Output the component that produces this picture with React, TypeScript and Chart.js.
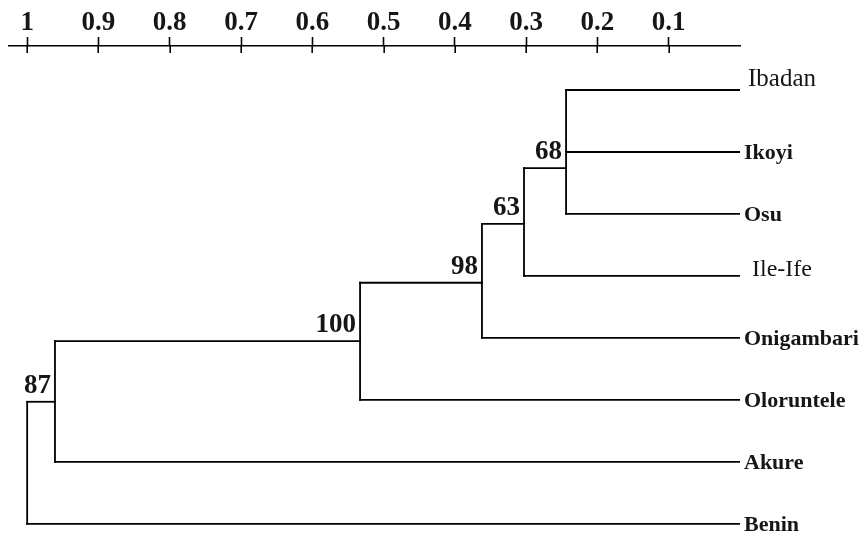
import React, { useEffect, useRef } from 'react';
import { Chart, registerables } from 'chart.js';

Chart.register(...registerables);

// ---- data ----
const leafNames = ['Ibadan', 'Ikoyi', 'Osu', 'Ile-Ife', 'Onigambari', 'Oloruntele', 'Akure', 'Benin'];
// internal nodes: children given as "L<i>" (leaf index) or "N<i>" (node index)
const nodeChildren = [
  ['L0', 'L1', 'L2'],
  ['N0', 'L3'],
  ['N1', 'L4'],
  ['N2', 'L5'],
  ['N3', 'L6'],
  ['N4', 'L7'],
];
const nodeHeights = [0.244, 0.303, 0.362, 0.533, 0.961, 1.0];
const nodeRows = [1.26, 2.16, 3.11, 4.05, 5.03, 6.0];
const bootstrap = [68, 63, 98, 100, 87, null];
const tickValues = [1, 0.9, 0.8, 0.7, 0.6, 0.5, 0.4, 0.3, 0.2, 0.1];
const tickLabels = ['1', '0.9', '0.8', '0.7', '0.6', '0.5', '0.4', '0.3', '0.2', '0.1'];

// ---- styling ----
const FONT = "'Liberation Serif', 'Times New Roman', serif";
const TEXT = '#161616';
const leafStyle: Record<string, { bold: boolean; size: number; dx: number; dy: number }> = {
  Ibadan: { bold: false, size: 25, dx: 8, dy: -11 },
  Ikoyi: { bold: true, size: 22, dx: 4, dy: 1 },
  Osu: { bold: true, size: 22, dx: 4, dy: 1 },
  'Ile-Ife': { bold: false, size: 24, dx: 12, dy: -6 },
  Onigambari: { bold: true, size: 22, dx: 4, dy: 1 },
  Oloruntele: { bold: true, size: 22, dx: 4, dy: 1 },
  Akure: { bold: true, size: 22, dx: 4, dy: 1 },
  Benin: { bold: true, size: 22, dx: 4, dy: 1 },
};

function ref(id: string) {
  const idx = parseInt(id.slice(1), 10);
  if (id[0] === 'L') return { h: 0, row: idx };
  return { h: nodeHeights[idx], row: nodeRows[idx] };
}

function buildSegments() {
  const segs: { x: number; y: number }[][] = [];
  nodeChildren.forEach((children, i) => {
    const h = nodeHeights[i];
    const rows = children.map((c) => ref(c).row);
    segs.push([
      { x: h, y: Math.min(...rows) },
      { x: h, y: Math.max(...rows) },
    ]);
    children.forEach((c) => {
      const r = ref(c);
      segs.push([
        { x: r.h, y: r.row },
        { x: h, y: r.row },
      ]);
    });
  });
  return segs;
}

const textPlugin = {
  id: 'dendroText',
  afterDraw(chart: any) {
    const { ctx, chartArea } = chart;
    const xs = chart.scales.x;
    const ys = chart.scales.y;
    ctx.save();
    // lower half of the axis tick marks
    ctx.strokeStyle = '#000';
    ctx.lineWidth = 1.6;
    tickValues.forEach((v) => {
      const px = Math.round(xs.getPixelForValue(v)) + 0.2;
      ctx.beginPath();
      ctx.moveTo(px, chartArea.top);
      ctx.lineTo(px, chartArea.top + 7);
      ctx.stroke();
    });
    // leaf names
    ctx.fillStyle = TEXT;
    ctx.textAlign = 'left';
    ctx.textBaseline = 'middle';
    leafNames.forEach((name, i) => {
      const s = leafStyle[name];
      ctx.font = `${s.bold ? 'bold ' : ''}${s.size}px ${FONT}`;
      ctx.fillText(name, xs.getPixelForValue(0) + s.dx, ys.getPixelForValue(i) + s.dy);
    });
    // bootstrap values
    ctx.font = `bold 27px ${FONT}`;
    ctx.textAlign = 'right';
    bootstrap.forEach((b, i) => {
      if (b == null) return;
      ctx.fillText(String(b), xs.getPixelForValue(nodeHeights[i]) - 4, ys.getPixelForValue(nodeRows[i]) - 16);
    });
    ctx.restore();
  },
};

export default function App() {
  const canvasRef = useRef<HTMLCanvasElement>(null);
  useEffect(() => {
    if (!canvasRef.current) return;
    const segs = buildSegments();
    const chart = new Chart(canvasRef.current, {
      type: 'scatter',
      data: {
        datasets: segs.map((s) => ({
          data: s,
          showLine: true,
          borderColor: '#000',
          borderWidth: 1.8,
          borderCapStyle: 'square',
          pointRadius: 0,
          pointHoverRadius: 0,
          fill: false,
        })),
      },
      options: {
        animation: false,
        responsive: false,
        events: [],
        layout: { padding: { left: 9, right: 124, top: 0, bottom: 0 } },
        plugins: { legend: { display: false }, tooltip: { enabled: false } },
        scales: {
          x: {
            type: 'linear',
            position: 'top',
            reverse: true,
            min: 0,
            max: 1.0255,
            afterBuildTicks: (scale: any) => {
              scale.ticks = tickValues.map((v) => ({ value: v }));
            },
            afterFit: (scale: any) => {
              scale.height = 46;
            },
            ticks: {
              autoSkip: false,
              maxRotation: 0,
              padding: -2,
              color: TEXT,
              font: { family: FONT, size: 27, weight: 'bold' },
              callback: (_v: any, i: number) => tickLabels[i],
            },
            grid: {
              display: true,
              drawOnChartArea: false,
              drawTicks: true,
              tickLength: 9,
              tickWidth: 1.6,
              tickColor: '#000',
            },
            border: { display: true, color: '#000', width: 1.6 },
          },
          y: {
            type: 'linear',
            display: false,
            reverse: true,
            min: -0.71,
            max: 7.26,
          },
        },
      },
      plugins: [textPlugin],
    } as any);
    return () => chart.destroy();
  }, []);
  return (
    <div style={{ position: 'fixed', left: 0, top: 0, width: 864, height: 540, background: '#fff' }}>
      <canvas ref={canvasRef} width={864} height={540} style={{ display: 'block' }} />
    </div>
  );
}
